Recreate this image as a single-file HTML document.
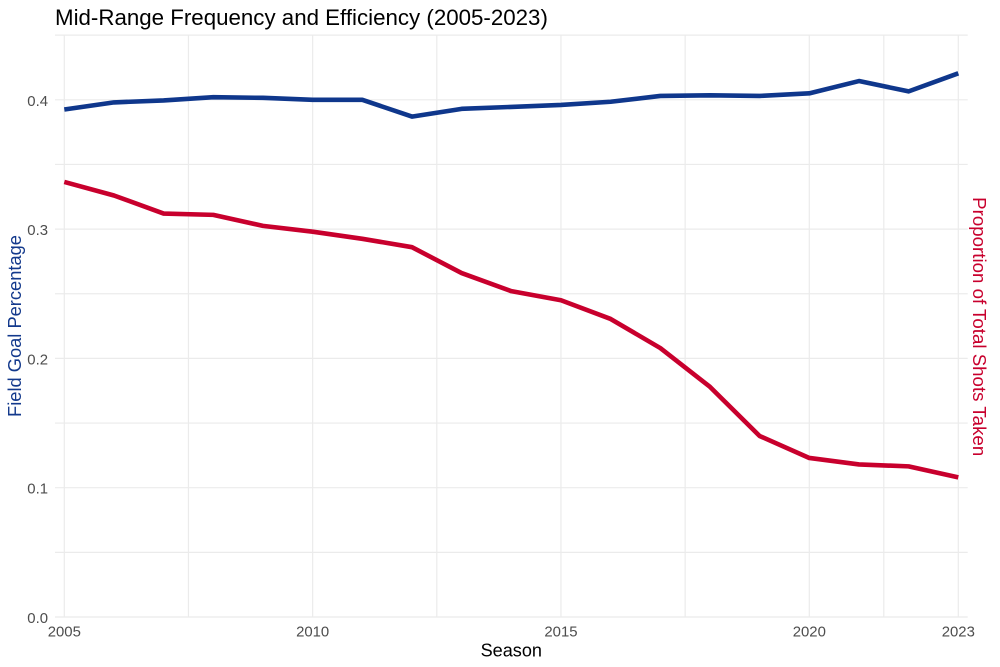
<!DOCTYPE html>
<html lang="en">
<head>
<meta charset="utf-8">
<title>Mid-Range Frequency and Efficiency (2005-2023)</title>
<style>
html,body{margin:0;padding:0;background:#fff;}
svg{display:block;font-family:"Liberation Sans",Arial,sans-serif;}
</style>
</head>
<body>
<svg id="chart" width="1000" height="667" viewBox="0 0 1000 667" xmlns="http://www.w3.org/2000/svg">
  <rect x="0" y="0" width="1000" height="667" fill="#ffffff"/>
  <g id="grid"></g>
  <g id="series"></g>
  <g id="ticks"></g>
  <text x="55" y="25" font-size="22.3" fill="#000000">Mid-Range Frequency and Efficiency (2005-2023)</text>
  <text x="511.3" y="656.5" font-size="18.1" fill="#000000" text-anchor="middle">Season</text>
  <text transform="translate(21,326) rotate(-90)" font-size="18.3" fill="#13398c" text-anchor="middle">Field Goal Percentage</text>
  <text transform="translate(973,326.7) rotate(90)" font-size="18.7" fill="#c8002d" text-anchor="middle">Proportion of Total Shots Taken</text>
</svg>
<script>
const seasons = [2005,2006,2007,2008,2009,2010,2011,2012,2013,2014,2015,2016,2017,2018,2019,2020,2021,2022,2023];
const fieldGoalPct = [0.3925,0.398,0.3995,0.402,0.4015,0.400,0.400,0.387,0.393,0.3945,0.396,0.3985,0.403,0.4035,0.403,0.405,0.4145,0.4065,0.4205];
const shotProportion = [0.3365,0.326,0.312,0.311,0.3025,0.298,0.2925,0.286,0.266,0.252,0.245,0.2305,0.208,0.178,0.14,0.123,0.118,0.1165,0.108];
const xTickLabels = [2005,2010,2015,2020,2023];
const xGridValues = [2005,2007.5,2010,2012.5,2015,2017.5,2020,2021.5,2023];
const yTickLabels = [0.0,0.1,0.2,0.3,0.4];
const yGridValues = [0,0.05,0.1,0.15,0.2,0.25,0.3,0.35,0.4,0.45];

const panel = {left:55, right:967.7, top:35, bottom:617};
function xScale(v){ return 64.3 + (v - 2005) * (958.3 - 64.3) / 18; }
function yScale(v){ return 617 - v * 1293; }
const NS = 'http://www.w3.org/2000/svg';
function mk(tag, attrs, parent){
  const el = document.createElementNS(NS, tag);
  for (const k in attrs) el.setAttribute(k, attrs[k]);
  parent.appendChild(el);
  return el;
}
const grid = document.getElementById('grid');
yGridValues.forEach(function(v){
  const el = mk('line',{x1:panel.left,x2:panel.right,y1:yScale(v),y2:yScale(v),stroke:'#ebebeb','stroke-width':1.2},grid);
  
  
});
xGridValues.forEach(function(v){
  const el = mk('line',{x1:xScale(v),x2:xScale(v),y1:panel.top,y2:panel.bottom,stroke:'#ebebeb','stroke-width':1.2},grid);
  
  
});
const seriesG = document.getElementById('series');
function pathFor(vals){
  return vals.map(function(v,i){ return xScale(seasons[i]).toFixed(2)+','+yScale(v).toFixed(2); }).join(' ');
}
const redLine = mk('polyline',{points:pathFor(shotProportion),fill:'none',stroke:'#c8002d','stroke-width':4.6,'stroke-linejoin':'round'},seriesG);


const blueLine = mk('polyline',{points:pathFor(fieldGoalPct),fill:'none',stroke:'#0f378c','stroke-width':4.6,'stroke-linejoin':'round'},seriesG);


const ticks = document.getElementById('ticks');
xTickLabels.forEach(function(v){
  const el = mk('text',{x:xScale(v),y:636.5,'font-size':14.9,fill:'#4d4d4d','text-anchor':'middle'},ticks);
  el.textContent = String(v);
  
  
});
yTickLabels.forEach(function(v){
  const el = mk('text',{x:48,y:yScale(v)+6,'font-size':14.9,fill:'#4d4d4d','text-anchor':'end'},ticks);
  el.textContent = v.toFixed(1);
  
  
});
</script>
</body>
</html>
